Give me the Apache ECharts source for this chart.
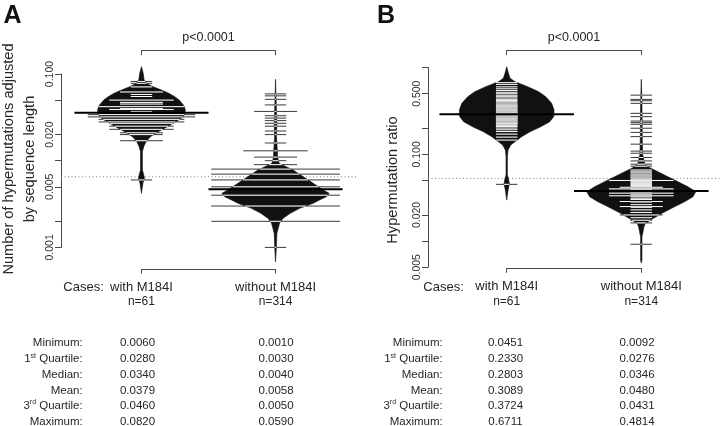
<!DOCTYPE html>
<html><head><meta charset="utf-8">
<script src="https://cdn.jsdelivr.net/npm/echarts@6/dist/echarts.min.js"></script>
<style>html,body{margin:0;padding:0;background:#fff}#c{width:720px;height:426px}</style>
</head><body><div id="c"></div>
<script>
// ================= DATA =================
const groupNames = ['with M184I', 'without M184I'];
const groupCounts = [61, 314];
const pValueText = 'p<0.0001';
const panelLetters = ['A', 'B'];
const yTitleA = ['Number of hypermutations adjusted', 'by sequence length'];
const yTitleB = 'Hypermutation ratio';

const yTicksA = [0.001, 0.002, 0.005, 0.01, 0.02, 0.05, 0.1];
const yLabelsA = [0.001, 0.005, 0.02, 0.1];
const yTicksB = [0.005, 0.01, 0.02, 0.05, 0.1, 0.2, 0.5, 1];
const yLabelsB = [0.005, 0.02, 0.1, 0.5];

// bean density outlines: [value, half width (group units)]
const beanA1 = [[0.1216,0],[0.1019,0.013],[0.0853,0.02],[0.078,0.037],[0.0714,0.087],[0.0653,0.149],[0.0598,0.204],[0.0548,0.248],[0.0501,0.281],[0.0439,0.313],[0.0385,0.328],[0.0352,0.323],[0.0322,0.311],[0.0294,0.278],[0.027,0.236],[0.0247,0.194],[0.0216,0.125],[0.0189,0.067],[0.0166,0.035],[0.0145,0.017],[0.0127,0.007],[0.0078,0.007],[0.0071,0.015],[0.0063,0.022],[0.0055,0.011],[0.0042,0]];
const beanA2 = [[0.0868,0],[0.0459,0.005],[0.027,0.01],[0.0189,0.007],[0.0133,0.013],[0.0111,0.015],[0.0102,0.02],[0.0093,0.028],[0.0085,0.08],[0.0078,0.132],[0.00653,0.207],[0.00548,0.281],[0.00459,0.356],[0.0042,0.4],[0.00385,0.38],[0.00352,0.328],[0.00323,0.281],[0.00282,0.18],[0.00247,0.11],[0.00216,0.055],[0.0019,0.03],[0.00166,0.02],[0.00145,0.01],[0.00093,0.005],[0.00068,0]];
const beanB1 = [[1.023,0],[0.859,0.013],[0.753,0.025],[0.687,0.062],[0.603,0.156],[0.527,0.238],[0.461,0.29],[0.387,0.334],[0.324,0.352],[0.272,0.349],[0.238,0.32],[0.208,0.253],[0.182,0.173],[0.16,0.111],[0.14,0.062],[0.128,0.03],[0.112,0.01],[0.0938,0.005],[0.0577,0.005],[0.0528,0.013],[0.0455,0.02],[0.0387,0.01],[0.0297,0]];
const beanB2 = [[0.733,0],[0.387,0.005],[0.16,0.007],[0.1,0.01],[0.0787,0.025],[0.0719,0.05],[0.0671,0.087],[0.063,0.124],[0.0552,0.198],[0.0483,0.273],[0.0423,0.347],[0.0371,0.405],[0.0324,0.384],[0.0284,0.322],[0.0249,0.247],[0.0209,0.154],[0.0183,0.091],[0.016,0.03],[0.0146,0.02],[0.0128,0.013],[0.0112,0.005],[0.006,0.005],[0.0056,0]];

// individual observations: [value, number of tied observations]
const linesA1 = [[0.082,1],[0.078,1],[0.071,1],[0.062,2],[0.058,1],[0.055,1],[0.050,3],[0.047,2],[0.045,2],[0.042,4],[0.040,2],[0.039,3],[0.037,1],[0.036,3],[0.034,5],[0.032,5],[0.030,4],[0.028,4],[0.027,3],[0.025,3],[0.023,3],[0.021,2],[0.020,2],[0.017,2],[0.006,1]];
const linesA2 = [[0.059,1],[0.056,1],[0.051,1],[0.044,1],[0.037,2],[0.033,1],[0.031,1],[0.029,1],[0.027,1],[0.025,1],[0.022,1],[0.020,1],[0.016,1],[0.013,3],[0.011,2],[0.010,1],[0.009,2],[0.008,9],[0.007,14],[0.006,28],[0.005,65],[0.004,85],[0.003,75],[0.002,15],[0.001,1]];
const linesB1 = [[0.6711,1],[0.64,1],[0.60,1],[0.57,1],[0.545,1],[0.52,1],[0.50,1],[0.48,1],[0.462,1],[0.446,1],[0.431,1],[0.417,1],[0.404,1],[0.392,1],[0.381,1],[0.3724,1],[0.367,1],[0.362,1],[0.355,1],[0.348,1],[0.341,1],[0.334,1],[0.327,1],[0.321,1],[0.315,1],[0.309,1],[0.304,1],[0.299,1],[0.295,1],[0.291,1],[0.2803,1],[0.283,1],[0.278,1],[0.276,1],[0.274,1],[0.271,1],[0.268,1],[0.265,1],[0.262,1],[0.259,1],[0.256,1],[0.252,1],[0.248,1],[0.244,1],[0.240,1],[0.236,1],[0.233,1],[0.231,1],[0.228,1],[0.224,1],[0.219,1],[0.214,1],[0.209,1],[0.201,1],[0.192,1],[0.183,1],[0.171,1],[0.158,1],[0.146,1],[0.226,1],[0.0451,1]];
const linesB2 = [[0.4814,1],[0.43,1],[0.415,1],[0.387,1],[0.297,1],[0.272,1],[0.242,1],[0.232,1],[0.222,1],[0.2,1],[0.179,1],[0.16,1],[0.131,1],[0.109,1],[0.103,1],[0.092,1],[0.084,1],[0.077,1],[0.073,1],[0.066,1],[0.064,1],[0.0625,1],[0.061,1],[0.059,1],[0.0575,1],[0.056,1],[0.0545,1],[0.053,1],[0.0515,1],[0.05,3],[0.0487,1],[0.0475,1],[0.0462,1],[0.045,1],[0.0438,1],[0.0426,1],[0.0417,2],[0.0405,1],[0.04,3],[0.0392,1],[0.0385,3],[0.0375,1],[0.0367,1],[0.0357,3],[0.0347,1],[0.0333,3],[0.0324,1],[0.0312,1],[0.0302,1],[0.0286,2],[0.0282,1],[0.0263,1],[0.025,2],[0.0245,1],[0.0229,1],[0.0214,1],[0.02,2],[0.0186,1],[0.0174,1],[0.0162,1],[0.0092,1]];

// per-bean average (geometric) and overall average line
const meansA = [0.0358, 0.0047];
const meansB = [0.289, 0.0378];
const overallA = 0.00652;
const overallB = 0.0528;

// summary table
const statNames = ['Minimum:', '1st Quartile:', 'Median:', 'Mean:', '3rd Quartile:', 'Maximum:'];
const statsAwith = ['0.0060','0.0280','0.0340','0.0379','0.0460','0.0820'];
const statsAwithout = ['0.0010','0.0030','0.0040','0.0058','0.0050','0.0590'];
const statsBwith = ['0.0451','0.2330','0.2803','0.3089','0.3724','0.6711'];
const statsBwithout = ['0.0092','0.0276','0.0346','0.0480','0.0431','0.4814'];

// ================= CHART =================
const FONT = '"Liberation Sans", Arial, Helvetica, sans-serif';
const TXT = '#262626';
const AX = '#4a4a4a';
const LINE_UNIT = 0.08, LINE_MAX = 0.48, MEAN_HW = 0.5;
const lg = Math.log10;
const xRangeA = [0.4, 2.6], xRangeB = [0.415, 2.585];

function profileLog(p){ return p.map(([v,w]) => [lg(v), w]); }
function halfWidthAt(pl, ly){
  for (let i = 0; i < pl.length - 1; i++){
    const a = pl[i][0], wa = pl[i][1], b = pl[i+1][0], wb = pl[i+1][1];
    if (ly <= a && ly >= b){ const t = (a - ly) / (a - b || 1); return wa + (wb - wa) * t; }
  }
  return 0;
}

function panelSeries(ai, profiles, lines, means, overall, xr){
  const pls = profiles.map(profileLog);
  const base = {type:'custom', xAxisIndex: ai, yAxisIndex: ai, clip:false, silent:true, animation:false};
  const out = [];
  out.push(Object.assign({}, base, {z:1, encode:{x:0,y:1},
    data:[[xr[0], lg(overall), xr[1]]],
    renderItem:(p, api) => {
      const a = api.coord([api.value(0), api.value(1)]), b = api.coord([api.value(2), api.value(1)]);
      return {type:'line', shape:{x1:a[0],y1:a[1],x2:b[0],y2:b[1]}, style:{stroke:'#808080', lineWidth:1, lineDash:[1,2.5]}};
    }}));
  out.push(Object.assign({}, base, {z:2, encode:{x:0,y:1},
    data: means.map((m,i) => [i+1, lg(m), i]),
    renderItem:(p, api) => {
      const pos = api.value(0), pl = pls[api.value(2)];
      const right = pl.map(([ly,w]) => api.coord([pos + w, ly]));
      const left = pl.slice().reverse().map(([ly,w]) => api.coord([pos - w, ly]));
      return {type:'polygon', shape:{points: right.concat(left)}, style:{fill:'#111', stroke:'#111', lineWidth:0.6}};
    }}));
  const ld = [];
  lines.forEach((arr, i) => arr.forEach(([v, c]) => ld.push([i+1, lg(v), c, i])));
  out.push(Object.assign({}, base, {z:3, encode:{x:0,y:1}, data: ld,
    renderItem:(p, api) => {
      const pos = api.value(0), ly = api.value(1), c = api.value(2), bi = api.value(3);
      const hw = Math.min(LINE_UNIT * c, LINE_MAX);
      const bw = Math.min(hw, halfWidthAt(pls[bi], ly));
      const p0 = api.coord([pos - hw, ly]), p1 = api.coord([pos + hw, ly]);
      const q0 = api.coord([pos - bw, ly]), q1 = api.coord([pos + bw, ly]);
      const ch = [{type:'line', shape:{x1:p0[0],y1:p0[1],x2:p1[0],y2:p1[1]}, style:{stroke:'#3a3a3a', lineWidth:1}}];
      if (bw > 0) ch.push({type:'line', shape:{x1:q0[0],y1:q0[1],x2:q1[0],y2:q1[1]}, style:{stroke:'#ffffff', lineWidth:1}});
      return {type:'group', children: ch};
    }}));
  out.push(Object.assign({}, base, {z:4, encode:{x:0,y:1},
    data: means.map((m,i) => [i+1, lg(m)]),
    renderItem:(p, api) => {
      const a = api.coord([api.value(0) - MEAN_HW, api.value(1)]), b = api.coord([api.value(0) + MEAN_HW, api.value(1)]);
      return {type:'line', shape:{x1:a[0],y1:a[1],x2:b[0],y2:b[1]}, style:{stroke:'#000', lineWidth:2}};
    }}));
  return out;
}

function yAxisLog(gi, min, max, ticks, labels){
  return {type:'value', gridIndex:gi, min:min, max:max,
    axisLine:{show:true, lineStyle:{color:AX, width:1}},
    axisTick:{show:true, length:6, lineStyle:{color:AX, width:1}, customValues: ticks.map(lg)},
    axisLabel:{show:true, rotate:90, margin:5, fontSize:10.5, color:'#333', fontFamily:FONT,
      customValues: labels.map(lg), formatter: v => Math.pow(10, v).toFixed(3)},
    splitLine:{show:false}};
}
function bracketBottom(gi){
  return {type:'value', gridIndex:gi, position:'bottom', min:1, max:2, interval:1,
    axisLine:{show:true, lineStyle:{color:AX, width:1}},
    axisTick:{show:true, length:4.5, lineStyle:{color:AX}},
    axisLabel:{show:true, margin:10.5, showMinLabel:true, showMaxLabel:true,
      formatter: v => '{a|' + groupNames[Math.round(v)-1] + '}\n{b|n=' + groupCounts[Math.round(v)-1] + '}',
      rich:{a:{fontSize:13, lineHeight:15, color:TXT, fontFamily:FONT}, b:{fontSize:12, lineHeight:15, color:TXT, fontFamily:FONT}}},
    splitLine:{show:false}};
}
function bracketTop(gi){
  return {type:'value', gridIndex:gi, position:'top', min:1, max:2, interval:1,
    axisLine:{show:true, lineStyle:{color:AX, width:1}},
    axisTick:{show:true, inside:true, length:5, lineStyle:{color:AX}},
    axisLabel:{show:false}, splitLine:{show:false},
    name: pValueText, nameLocation:'middle', nameGap:6,
    nameTextStyle:{fontSize:12.5, color:TXT, fontFamily:FONT}};
}

const graphics = [];
function txt(x, y, text, size, opts){
  graphics.push(Object.assign({type:'text', x:x, y:y, silent:true,
    style:Object.assign({text:text, fontSize:size, fontFamily:FONT, fill:TXT,
      align:'center', verticalAlign:'middle', textAlign:'center', textVerticalAlign:'middle'}, (opts && opts.style) || {})},
    (opts && opts.el) || {}));
}
txt(12.5, 16, panelLetters[0], 25, {style:{fontWeight:'bold', fill:'#111'}});
txt(386, 16, panelLetters[1], 25, {style:{fontWeight:'bold', fill:'#111'}});
txt(8.5, 159, yTitleA[0], 14.6, {el:{rotation:Math.PI/2}});
txt(30, 159, yTitleA[1], 14.6, {el:{rotation:Math.PI/2}});
txt(393, 180, yTitleB, 14.6, {el:{rotation:Math.PI/2}});
txt(63.3, 287, 'Cases:', 13, {style:{align:'left', textAlign:'left'}});
txt(423.3, 287, 'Cases:', 13, {style:{align:'left', textAlign:'left'}});

const rowY = [343.3, 359.3, 375, 390.7, 406, 421.7];
function statLabel(s){
  const m = s.match(/^(\d)(st|nd|rd|th)(.*)$/);
  return m ? '{n|' + m[1] + '}{s|' + m[2] + '}{n|' + m[3] + '}' : '{n|' + s + '}';
}
const rich = {n:{fontSize:11.5, fontFamily:FONT, fill:TXT, color:TXT}, s:{fontSize:7, fontFamily:FONT, fill:TXT, color:TXT, padding:[0,0,7,0]}};
[[82.7, 137.5, 276, statsAwith, statsAwithout], [442.7, 505.5, 637, statsBwith, statsBwithout]].forEach(([lx, c1, c2, s1, s2]) => {
  statNames.forEach((nm, i) => {
    txt(lx, rowY[i], statLabel(nm), 11.5, {style:{align:'right', textAlign:'right', rich:rich}});
    txt(c1, rowY[i], s1[i], 11.5);
    txt(c2, rowY[i], s2[i], 11.5);
  });
});

const chart = echarts.init(document.getElementById('c'), null, {renderer:'canvas'});
chart.setOption({
  animation:false,
  backgroundColor:'#fff',
  grid:[
    {left:61, top:74, width:295, height:173.4, outerBoundsMode:'none', containLabel:false},
    {left:428, top:67.6, width:292, height:199.6, outerBoundsMode:'none', containLabel:false},
    {left:141.45, top:50, width:134.1, height:219, outerBoundsMode:'none', containLabel:false},
    {left:506.7, top:50, width:134.6, height:218.3, outerBoundsMode:'none', containLabel:false}
  ],
  xAxis:[
    {type:'value', gridIndex:0, min:xRangeA[0], max:xRangeA[1], show:false},
    {type:'value', gridIndex:1, min:xRangeB[0], max:xRangeB[1], show:false},
    bracketBottom(2), bracketTop(2), bracketBottom(3), bracketTop(3)
  ],
  yAxis:[
    yAxisLog(0, -3, -1, yTicksA, yLabelsA),
    yAxisLog(1, lg(0.005), 0, yTicksB, yLabelsB),
    {type:'value', gridIndex:2, min:0, max:1, show:false},
    {type:'value', gridIndex:3, min:0, max:1, show:false}
  ],
  graphic: graphics,
  series: [].concat(
    panelSeries(0, [beanA1, beanA2], [linesA1, linesA2], meansA, overallA, xRangeA),
    panelSeries(1, [beanB1, beanB2], [linesB1, linesB2], meansB, overallB, xRangeB)
  )
});
</script>
</body></html>
